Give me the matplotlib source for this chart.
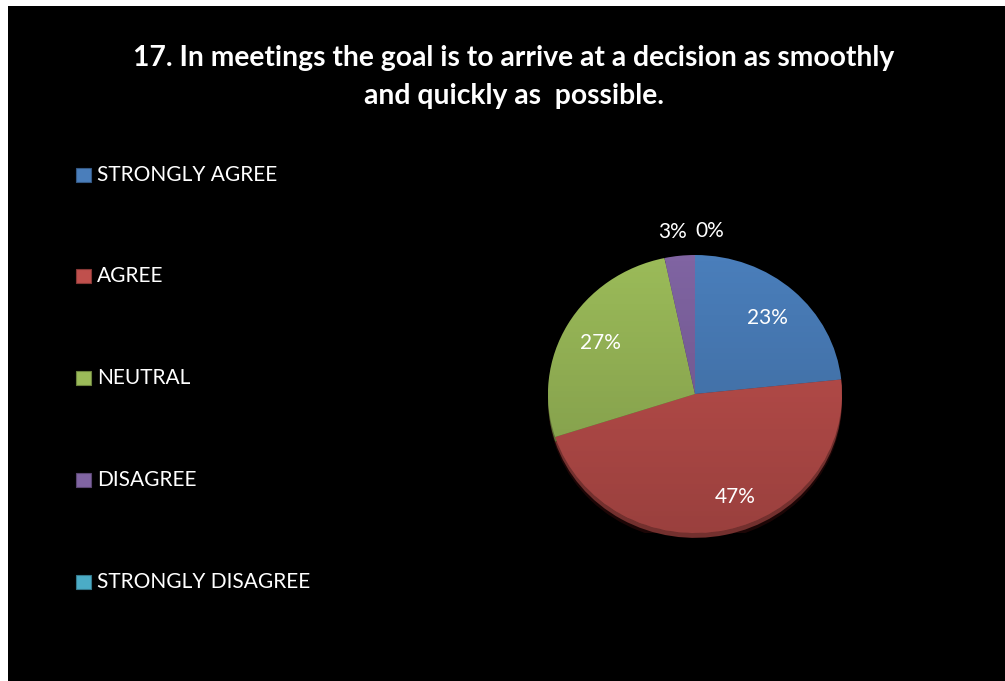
import numpy as np
import matplotlib.pyplot as plt
from matplotlib.patches import Rectangle, Ellipse

# survey answers (30 respondents)
categories = ['STRONGLY AGREE', 'AGREE', 'NEUTRAL', 'DISAGREE', 'STRONGLY DISAGREE']
counts = [7, 14, 8, 1, 0]
colors = ['#4a7ebb', '#c0504d', '#9bbb59', '#8064a2', '#4bacc6']
title = '17. In meetings the goal is to arrive at a decision as smoothly\nand quickly as  possible.'

W, H = 1005, 681
plt.rcParams['font.family'] = ['Lato', 'DejaVu Sans']


def darker(c, f):
    rgb = np.array(plt.matplotlib.colors.to_rgb(c))
    return tuple(rgb * f)


fig = plt.figure(figsize=(W / 100, H / 100), dpi=100)
fig.patch.set_facecolor('white')
# black chart area with thin white margin top/left
fig.patches.append(Rectangle((8 / W, 0), 1, 1 - 6 / H, transform=fig.transFigure,
                             facecolor='black', edgecolor='none', zorder=-1))

fig.text(514 / W, 1 - 77 / H, title, ha='center', va='center', color='white',
         fontsize=20.3, fontweight='bold', linespacing=1.55)

# legend down the left side
leg_y = [175, 276, 378, 480, 582]
for name, c, y in zip(categories, colors, leg_y):
    fig.patches.append(Rectangle((76 / W, 1 - (y + 7) / H), 15 / W, 14 / H, transform=fig.transFigure,
                                 facecolor=c, edgecolor=darker(c, 0.7), linewidth=0.8, zorder=2))
    fig.text(97 / W, 1 - y / H, name, ha='left', va='center', color='white', fontsize=15)

# pie axes (slightly flattened, tilted look)
cx, cy, rx, ry = 695, 394, 147, 139
ax = fig.add_axes([(cx - rx) / W, (H - cy - ry) / H, 2 * rx / W, 2 * ry / H])

# soft shadow + darker side of the disc
ax.add_patch(Ellipse((0.0, -0.06), 2.0, 2.0, facecolor='#1c0606', edgecolor='none', zorder=0))
ax.pie(counts, colors=[darker(c, 0.6) for c in colors], startangle=90, counterclock=False,
       radius=1, center=(0, -0.035), wedgeprops=dict(edgecolor='none', zorder=0.5))

total = sum(counts)
wedges, _ = ax.pie(counts, colors=colors, startangle=90, counterclock=False, radius=1,
                   wedgeprops=dict(edgecolor='none', zorder=1))
ax.set_xlim(-1, 1)
ax.set_ylim(-1, 1)
ax.set_aspect('auto')
ax.axis('off')

# vertical shading over the pie face
grad = np.linspace(0, 1, 256)
shade = np.zeros((256, 1, 4))
shade[:, 0, 3] = 0.2 * grad  # darker towards bottom
img = ax.imshow(shade, extent=[-1, 1, -1, 1], origin='upper', zorder=2, aspect='auto',
                interpolation='bilinear')
img.set_clip_path(Ellipse((0, 0), 2, 2, transform=ax.transData))

# percentage labels
for i, (w, n) in enumerate(zip(wedges, counts)):
    pct = n / total * 100
    mid = np.deg2rad((w.theta1 + w.theta2) / 2)
    d = 0.74
    if pct < 5:
        d = 1.17
    if i == 1:
        mid += np.deg2rad(8)
        d = 0.79
    x, y = d * np.cos(mid), d * np.sin(mid)
    if pct < 5:
        x += -0.03 if i == 3 else 0.1
    ax.text(x, y, f'{pct:.0f}%', ha='center', va='center', color='white', fontsize=15, zorder=3,
            clip_on=False)

fig.savefig('out.png', dpi=100, facecolor=fig.get_facecolor())
